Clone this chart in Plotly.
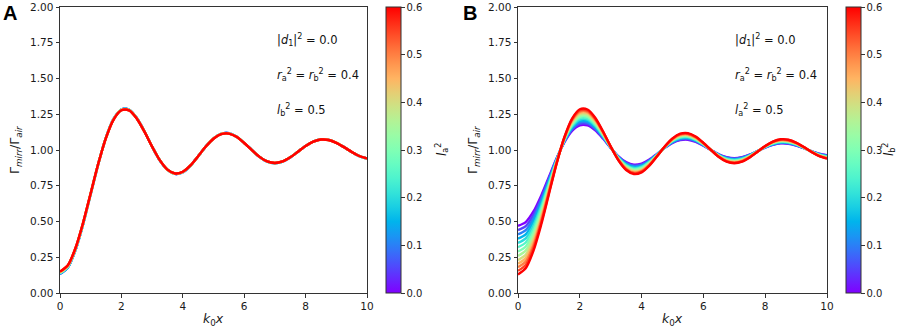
import plotly.graph_objects as go
import math

# ---------------- data ----------------
k0x = [0.0, 0.25, 0.5, 0.75, 1.0, 1.25, 1.5, 1.75, 2.0, 2.25, 2.5, 2.75, 3.0, 3.25, 3.5, 3.75, 4.0,
       4.25, 4.5, 4.75, 5.0, 5.25, 5.5, 5.75, 6.0, 6.25, 6.5, 6.75, 7.0, 7.25, 7.5, 7.75, 8.0,
       8.25, 8.5, 8.75, 9.0, 9.25, 9.5, 9.75, 10.0]

# colour parameter of each curve (l_a^2 in panel A, l_b^2 in panel B)
l_values = [0.0, 0.05, 0.1, 0.15, 0.2, 0.25, 0.3, 0.35, 0.4, 0.45, 0.5, 0.55, 0.6]

# Panel A: the 13 curves nearly coincide; four slightly different traces are visible
a_low = [0.135, 0.177, 0.299, 0.480, 0.693, 0.905, 1.088, 1.219, 1.283, 1.281, 1.224, 1.131, 1.024, 0.928, 0.861, 0.833, 0.845, 0.891, 0.956, 1.024, 1.081, 1.113, 1.117, 1.093, 1.050, 0.999, 0.951, 0.919, 0.908, 0.919, 0.948, 0.988, 1.028, 1.059, 1.074, 1.071, 1.051, 1.020, 0.986, 0.957, 0.940]
a_mid1 = [0.140, 0.182, 0.303, 0.483, 0.694, 0.906, 1.088, 1.217, 1.281, 1.280, 1.223, 1.130, 1.024, 0.929, 0.862, 0.834, 0.846, 0.891, 0.956, 1.024, 1.080, 1.113, 1.116, 1.093, 1.050, 0.999, 0.952, 0.919, 0.908, 0.919, 0.949, 0.988, 1.028, 1.059, 1.074, 1.071, 1.051, 1.020, 0.986, 0.957, 0.940]
a_mid2 = [0.145, 0.187, 0.307, 0.486, 0.696, 0.906, 1.087, 1.216, 1.280, 1.278, 1.222, 1.129, 1.024, 0.929, 0.862, 0.835, 0.847, 0.892, 0.956, 1.024, 1.080, 1.112, 1.116, 1.092, 1.049, 0.999, 0.952, 0.920, 0.909, 0.920, 0.949, 0.988, 1.028, 1.058, 1.074, 1.070, 1.051, 1.020, 0.986, 0.958, 0.940]
a_high = [0.150, 0.192, 0.311, 0.489, 0.698, 0.907, 1.087, 1.215, 1.278, 1.277, 1.220, 1.128, 1.024, 0.929, 0.863, 0.836, 0.848, 0.892, 0.957, 1.024, 1.079, 1.111, 1.115, 1.092, 1.049, 0.999, 0.952, 0.920, 0.909, 0.920, 0.949, 0.988, 1.028, 1.058, 1.073, 1.070, 1.050, 1.020, 0.987, 0.958, 0.941]
panel_a = [a_low, a_low, a_low, a_low, a_mid1, a_mid1, a_mid1,
           a_mid2, a_mid2, a_mid2, a_high, a_high, a_high]

# Panel B: Gamma_mirr / Gamma_air, one list per l_b^2 value
panel_b = [
    [0.470, 0.496, 0.570, 0.681, 0.812, 0.942, 1.054, 1.134, 1.173, 1.172, 1.137, 1.080, 1.015, 0.956, 0.915, 0.897, 0.905, 0.933, 0.973, 1.015, 1.050, 1.069, 1.072, 1.057, 1.031, 0.999, 0.970, 0.950, 0.943, 0.950, 0.968, 0.993, 1.017, 1.036, 1.046, 1.044, 1.031, 1.013, 0.992, 0.974, 0.963],
    [0.440, 0.467, 0.546, 0.663, 0.801, 0.939, 1.057, 1.142, 1.183, 1.182, 1.145, 1.085, 1.016, 0.953, 0.910, 0.892, 0.900, 0.929, 0.971, 1.016, 1.052, 1.073, 1.076, 1.060, 1.032, 0.999, 0.968, 0.948, 0.940, 0.948, 0.967, 0.992, 1.018, 1.038, 1.048, 1.046, 1.033, 1.013, 0.991, 0.972, 0.961],
    [0.410, 0.439, 0.522, 0.645, 0.790, 0.935, 1.060, 1.149, 1.193, 1.192, 1.153, 1.089, 1.016, 0.951, 0.905, 0.886, 0.894, 0.925, 0.970, 1.017, 1.055, 1.077, 1.080, 1.064, 1.034, 0.999, 0.967, 0.945, 0.937, 0.945, 0.965, 0.992, 1.019, 1.040, 1.051, 1.049, 1.035, 1.014, 0.991, 0.971, 0.959],
    [0.380, 0.410, 0.498, 0.627, 0.780, 0.932, 1.063, 1.157, 1.203, 1.202, 1.161, 1.094, 1.017, 0.948, 0.900, 0.880, 0.889, 0.922, 0.968, 1.018, 1.058, 1.081, 1.084, 1.067, 1.036, 0.999, 0.965, 0.942, 0.934, 0.942, 0.963, 0.991, 1.020, 1.042, 1.053, 1.051, 1.037, 1.015, 0.990, 0.969, 0.957],
    [0.350, 0.382, 0.473, 0.609, 0.769, 0.929, 1.066, 1.164, 1.213, 1.212, 1.168, 1.098, 1.018, 0.946, 0.895, 0.874, 0.883, 0.918, 0.967, 1.018, 1.061, 1.085, 1.088, 1.070, 1.038, 0.999, 0.963, 0.939, 0.931, 0.939, 0.961, 0.991, 1.021, 1.044, 1.056, 1.054, 1.039, 1.015, 0.990, 0.968, 0.955],
    [0.320, 0.353, 0.449, 0.591, 0.758, 0.926, 1.070, 1.172, 1.223, 1.221, 1.176, 1.103, 1.019, 0.943, 0.891, 0.868, 0.878, 0.914, 0.965, 1.019, 1.064, 1.089, 1.092, 1.073, 1.039, 0.999, 0.962, 0.936, 0.927, 0.936, 0.959, 0.991, 1.022, 1.046, 1.059, 1.056, 1.040, 1.016, 0.989, 0.966, 0.953],
    [0.290, 0.325, 0.425, 0.573, 0.748, 0.922, 1.073, 1.179, 1.232, 1.231, 1.184, 1.107, 1.020, 0.941, 0.886, 0.863, 0.873, 0.910, 0.964, 1.020, 1.066, 1.093, 1.096, 1.077, 1.041, 0.999, 0.960, 0.933, 0.924, 0.933, 0.958, 0.990, 1.023, 1.048, 1.061, 1.058, 1.042, 1.017, 0.989, 0.965, 0.950],
    [0.260, 0.296, 0.400, 0.555, 0.737, 0.919, 1.076, 1.187, 1.242, 1.241, 1.192, 1.112, 1.021, 0.939, 0.881, 0.857, 0.867, 0.906, 0.962, 1.021, 1.069, 1.097, 1.100, 1.080, 1.043, 0.999, 0.958, 0.931, 0.921, 0.931, 0.956, 0.990, 1.024, 1.051, 1.064, 1.061, 1.044, 1.017, 0.988, 0.963, 0.948],
    [0.230, 0.268, 0.376, 0.537, 0.726, 0.916, 1.079, 1.195, 1.252, 1.251, 1.200, 1.116, 1.021, 0.936, 0.876, 0.851, 0.862, 0.903, 0.961, 1.022, 1.072, 1.101, 1.104, 1.083, 1.045, 0.999, 0.957, 0.928, 0.918, 0.928, 0.954, 0.989, 1.025, 1.053, 1.066, 1.063, 1.046, 1.018, 0.988, 0.962, 0.946],
    [0.205, 0.244, 0.356, 0.522, 0.717, 0.913, 1.081, 1.201, 1.260, 1.259, 1.206, 1.120, 1.022, 0.934, 0.872, 0.846, 0.857, 0.899, 0.959, 1.023, 1.074, 1.104, 1.107, 1.086, 1.046, 0.999, 0.955, 0.926, 0.915, 0.926, 0.953, 0.989, 1.026, 1.054, 1.068, 1.065, 1.047, 1.019, 0.987, 0.961, 0.945],
    [0.180, 0.220, 0.335, 0.507, 0.709, 0.910, 1.084, 1.207, 1.268, 1.267, 1.213, 1.124, 1.023, 0.932, 0.868, 0.841, 0.853, 0.896, 0.958, 1.023, 1.077, 1.107, 1.111, 1.088, 1.047, 0.999, 0.954, 0.923, 0.913, 0.923, 0.951, 0.989, 1.027, 1.056, 1.071, 1.067, 1.049, 1.019, 0.987, 0.959, 0.943],
    [0.155, 0.196, 0.315, 0.492, 0.700, 0.908, 1.086, 1.214, 1.277, 1.275, 1.219, 1.128, 1.024, 0.930, 0.864, 0.837, 0.849, 0.893, 0.957, 1.024, 1.079, 1.111, 1.114, 1.091, 1.049, 0.999, 0.952, 0.921, 0.910, 0.921, 0.950, 0.988, 1.027, 1.058, 1.073, 1.070, 1.050, 1.020, 0.987, 0.958, 0.941],
    [0.130, 0.173, 0.295, 0.477, 0.691, 0.905, 1.089, 1.220, 1.285, 1.283, 1.226, 1.131, 1.024, 0.928, 0.860, 0.832, 0.844, 0.890, 0.956, 1.025, 1.081, 1.114, 1.118, 1.094, 1.050, 0.999, 0.951, 0.918, 0.907, 0.918, 0.948, 0.988, 1.028, 1.059, 1.075, 1.072, 1.052, 1.021, 0.986, 0.957, 0.939],
]

x_ticks = [0, 2, 4, 6, 8, 10]
y_ticks = [0.0, 0.25, 0.5, 0.75, 1.0, 1.25, 1.5, 1.75, 2.0]
cbar_ticks = [0.0, 0.1, 0.2, 0.3, 0.4, 0.5, 0.6]
L_MIN, L_MAX = 0.0, 0.6

# ---------------- style helpers ----------------
W, H = 906, 330


def rainbow(t):
    # matplotlib "rainbow" colormap
    r = min(1.0, max(0.0, abs(2 * t - 0.5)))
    g = min(1.0, max(0.0, math.sin(math.pi * t)))
    b = min(1.0, max(0.0, math.cos(math.pi * t / 2)))
    return "rgb(%d,%d,%d)" % (round(r * 255), round(g * 255), round(b * 255))


colorscale = [[i / 20, rainbow(i / 20)] for i in range(21)]

FONT = "DejaVu Sans"
TXT = "#1a1a1a"
px = lambda v: v / W
py = lambda v: 1 - v / H

ax_top, ax_bot = 7, 293
panels = [
    dict(data=panel_a, xdom=(60, 367), cb_x=386, cb_title_x=442, ytitle_x=15,
         cb_title="<i>l</i><sub>a</sub><sup>2</sup>",
         txt3="<i>l</i><sub>b</sub><sup>2</sup> = 0.5", letter="A", letter_x=1),
    dict(data=panel_b, xdom=(518, 827), cb_x=846, cb_title_x=889, ytitle_x=473,
         cb_title="<i>l</i><sub>b</sub><sup>2</sup>",
         txt3="<i>l</i><sub>a</sub><sup>2</sup> = 0.5", letter="B", letter_x=461),
]

fig = go.Figure()
annotations = []

for p_i, p in enumerate(panels):
    xa = "x" if p_i == 0 else "x2"
    ya = "y" if p_i == 0 else "y2"
    for lv, ys in zip(l_values, p["data"]):
        fig.add_trace(go.Scatter(
            x=k0x, y=ys, mode="lines", xaxis=xa, yaxis=ya,
            line=dict(color=rainbow((lv - L_MIN) / (L_MAX - L_MIN)), width=2.4,
                      shape="spline", smoothing=0.8),
            showlegend=False, hoverinfo="skip",
        ))
    # colour bar (carrier trace without visible marks)
    fig.add_trace(go.Scatter(
        x=[None], y=[None], mode="markers", xaxis=xa, yaxis=ya, showlegend=False, hoverinfo="skip",
        marker=dict(
            color=[L_MIN], cmin=L_MIN, cmax=L_MAX, colorscale=colorscale, showscale=True, size=0,
            colorbar=dict(
                x=px(p["cb_x"]), xanchor="left", xref="paper",
                y=py(ax_bot), yanchor="bottom", yref="paper",
                len=ax_bot - ax_top, lenmode="pixels",
                thickness=15, thicknessmode="pixels",
                xpad=0, ypad=0,
                outlinewidth=1, outlinecolor="#333",
                tickvals=cbar_ticks, tickformat=".1f",
                ticks="outside", ticklen=3.5, tickcolor="#333",
                tickfont=dict(family=FONT, size=10, color=TXT),
            ),
        ),
    ))

    x0, x1 = p["xdom"]
    axis_common = dict(
        showline=True, linecolor="#333", linewidth=1, mirror=True, automargin=False,
        ticks="outside", ticklen=3.5, tickcolor="#333", showgrid=False, zeroline=False,
        tickfont=dict(family=FONT, size=10.5, color=TXT),
    )
    fig.update_layout(**{
        ("xaxis" if p_i == 0 else "xaxis2"): dict(
            domain=[px(x0), px(x1)], range=[0, 10], tickvals=x_ticks, anchor=ya, **axis_common),
        ("yaxis" if p_i == 0 else "yaxis2"): dict(
            domain=[py(ax_bot), py(ax_top)], range=[0, 2], tickvals=y_ticks, tickformat=".2f",
            anchor=xa, **axis_common),
    })

    # axis titles
    annotations.append(dict(
        text="<i>k</i><sub>0</sub><i>x</i>", xref="paper", yref="paper",
        x=px((x0 + x1) / 2), y=py(319), xanchor="center", yanchor="middle", showarrow=False,
        font=dict(family=FONT, size=12.5, color=TXT)))
    annotations.append(dict(
        text="Γ<sub><i>mirr</i></sub>/Γ<sub><i>air</i></sub>", xref="paper", yref="paper",
        x=px(p["ytitle_x"]), y=py(150), xanchor="center", yanchor="middle", textangle=-90,
        showarrow=False, font=dict(family=FONT, size=12.5, color=TXT)))

    # parameter texts
    texts = ["|<i>d</i><sub>1</sub>|<sup>2</sup> = 0.0",
             "<i>r</i><sub>a</sub><sup>2</sup> = <i>r</i><sub>b</sub><sup>2</sup> = 0.4",
             p["txt3"]]
    for t, yv in zip(texts, [40, 75, 110]):
        annotations.append(dict(
            text=t, xref="paper", yref="paper", x=px(x0 + 215), y=py(yv),
            xanchor="left", yanchor="middle", showarrow=False,
            font=dict(family=FONT, size=11.5, color="#111")))
    # colorbar title
    annotations.append(dict(
        text=p["cb_title"], xref="paper", yref="paper", x=px(p["cb_title_x"]), y=py(150),
        xanchor="center", yanchor="middle", textangle=-90, showarrow=False,
        font=dict(family=FONT, size=11.5, color="#111")))
    # panel letter
    annotations.append(dict(
        text="<b>%s</b>" % p["letter"], xref="paper", yref="paper", x=px(p["letter_x"]), y=py(0),
        xanchor="left", yanchor="top", showarrow=False,
        font=dict(family="Liberation Sans", size=20, color="#000")))

fig.update_layout(
    width=W, height=H, margin=dict(l=0, r=0, t=0, b=0, autoexpand=False),
    paper_bgcolor="white", plot_bgcolor="white",
    annotations=annotations,
    font=dict(family=FONT),
)

fig.write_html("out.html",
               config={"displayModeBar": False},
               post_script="document.body.style.margin='0';document.body.style.overflow='hidden';")
